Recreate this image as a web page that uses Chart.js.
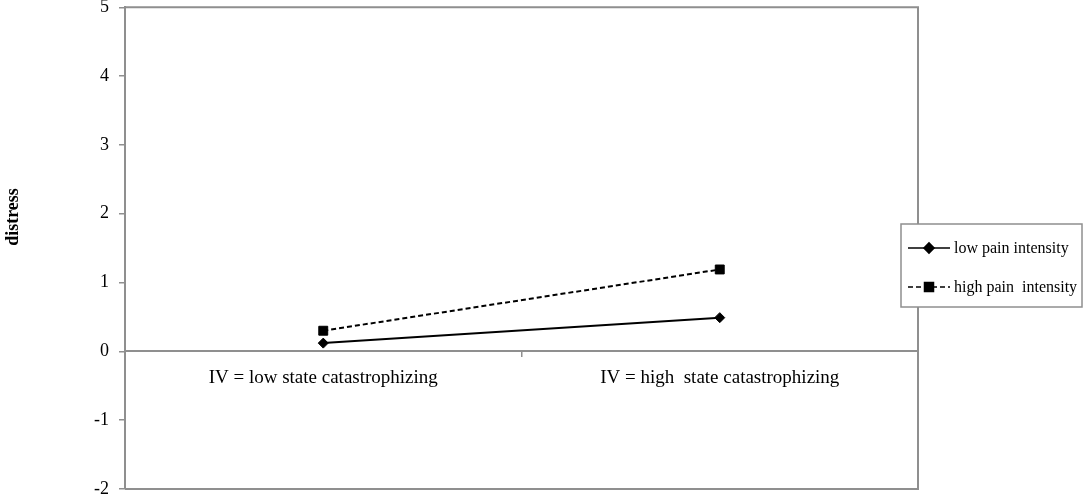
<!DOCTYPE html>
<html>
<head>
<meta charset="utf-8">
<script src="https://cdn.jsdelivr.net/npm/chart.js@4.4.1/dist/chart.umd.min.js"></script>
<style>
  html, body { margin: 0; padding: 0; background: #fff; }
  #wrap { width: 1084px; height: 499px; position: relative; }
</style>
</head>
<body>
<div id="wrap"><canvas id="c" width="1084" height="499"></canvas></div>
<script>
const categories = ["IV = low state catastrophizing", "IV = high  state catastrophizing"];
const seriesNames = ["low pain intensity", "high pain  intensity"];
const lowPain = [0.12, 0.49];
const highPain = [0.30, 1.19];
const yTicks = [-2, -1, 0, 1, 2, 3, 4, 5];
const yTitle = "distress";

const SERIF = "'Liberation Serif', 'Times New Roman', serif";
const GRAY = "#8f8f8f";

const frame = {
  id: 'frame',
  afterDatasetsDraw(chart) {
    const a = chart.chartArea, ctx = chart.ctx;
    ctx.save();
    ctx.strokeStyle = GRAY;
    ctx.lineWidth = 2;
    ctx.beginPath();
    ctx.moveTo(a.left, a.top);
    ctx.lineTo(a.right, a.top);
    ctx.lineTo(a.right, a.bottom);
    ctx.lineTo(a.left, a.bottom);
    ctx.stroke();
    ctx.restore();
  },
  afterDraw(chart) {
    const ctx = chart.ctx;
    ctx.save();
    ctx.translate(13, 217);
    ctx.rotate(-Math.PI / 2);
    ctx.font = "bold 18px " + SERIF;
    ctx.fillStyle = "#000";
    ctx.textAlign = "center";
    ctx.textBaseline = "middle";
    ctx.fillText(yTitle, 0, 0);
    ctx.restore();

    ctx.save();
    const bx = 901, by = 224, bw = 181, bh = 83;
    ctx.fillStyle = "#fff";
    ctx.fillRect(bx, by, bw, bh);
    ctx.strokeStyle = GRAY;
    ctx.lineWidth = 1.5;
    ctx.strokeRect(bx, by, bw, bh);
    const rows = [248, 287];
    chart.data.datasets.forEach((ds, i) => {
      const y = rows[i];
      ctx.strokeStyle = "#000";
      ctx.lineWidth = 1.6;
      ctx.setLineDash(ds.borderDash || []);
      ctx.beginPath();
      ctx.moveTo(908, y);
      ctx.lineTo(950, y);
      ctx.stroke();
      ctx.setLineDash([]);
      Chart.helpers.drawPoint(ctx, {
        pointStyle: ds.pointStyle, radius: ds.pointRadius, borderWidth: 1, rotation: 0
      }, 929, y);
      ctx.fillStyle = "#000";
      ctx.fill();
      ctx.font = "16px " + SERIF;
      ctx.textAlign = "left";
      ctx.textBaseline = "middle";
      ctx.fillText(seriesNames[i], 954, y + 1);
    });
    ctx.restore();
  }
};

new Chart(document.getElementById('c'), {
  type: 'line',
  data: {
    labels: categories,
    datasets: [
      {
        label: seriesNames[0], data: lowPain,
        borderColor: "#000", backgroundColor: "#000", borderWidth: 2,
        pointStyle: 'rectRot', pointRadius: 5, pointBorderWidth: 1, pointHoverRadius: 5
      },
      {
        label: seriesNames[1], data: highPain,
        borderColor: "#000", backgroundColor: "#000", borderWidth: 2, borderDash: [5, 3],
        pointStyle: 'rect', pointRadius: 6.3, pointBorderWidth: 1, pointHoverRadius: 6.3
      }
    ]
  },
  options: {
    responsive: false,
    animation: false,
    events: [],
    layout: { padding: { top: 7, right: 166, bottom: 10, left: 0 } },
    plugins: { legend: { display: false }, tooltip: { enabled: false } },
    scales: {
      x: {
        type: 'category',
        offset: true,
        position: { y: 0 },
        grid: { offset: true, drawOnChartArea: false, drawTicks: true, tickLength: 5, color: GRAY, lineWidth: 1.5 },
        border: { color: GRAY, width: 2 },
        ticks: { color: "#000", font: { family: SERIF, size: 19 }, padding: 10, maxRotation: 0, autoSkip: false }
      },
      y: {
        min: -2, max: 5,
        afterBuildTicks(s) { s.ticks = yTicks.map(v => ({ value: v })); },
        afterFit(s) { s.width = 125; s.paddingTop = 0; s.paddingBottom = 0; },
        grid: { drawOnChartArea: false, drawTicks: true, tickLength: 6, color: GRAY, lineWidth: 1.5 },
        border: { color: GRAY, width: 2 },
        ticks: { color: "#000", font: { family: SERIF, size: 18 }, padding: 10 }
      }
    }
  },
  plugins: [frame]
});
</script>
</body>
</html>
